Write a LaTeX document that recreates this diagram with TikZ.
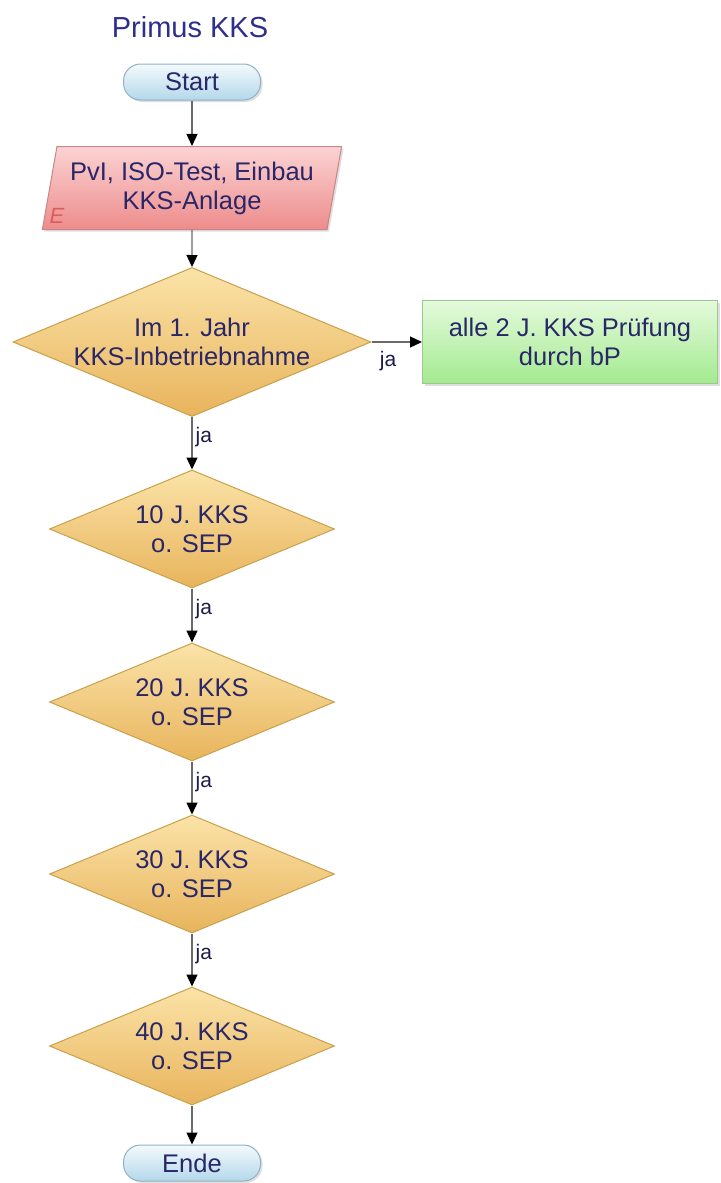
\documentclass[tikz,border=0pt]{standalone}
\usepackage{fontspec}
\setmainfont{Liberation Sans}
\usetikzlibrary{shapes.geometric,arrows.meta,shadows}
\definecolor{txtblau}{HTML}{2A2768}
\definecolor{titelblau}{HTML}{2E2F8C}
\definecolor{linie}{HTML}{6A6A6A}
\definecolor{termoben}{HTML}{F4FAFD}
\definecolor{termunten}{HTML}{B3D8EA}
\definecolor{termrand}{HTML}{8FB2C6}
\definecolor{rosaoben}{HTML}{FBD3D3}
\definecolor{rosaunten}{HTML}{EE8C8C}
\definecolor{rosarand}{HTML}{C98686}
\definecolor{goldoben}{HTML}{FBE3A8}
\definecolor{goldunten}{HTML}{E8B45C}
\definecolor{goldrand}{HTML}{C9A04C}
\definecolor{gruenoben}{HTML}{E4FADC}
\definecolor{gruenunten}{HTML}{A4EA90}
\definecolor{gruenrand}{HTML}{9CC88E}
\definecolor{erot}{HTML}{D95E5E}
\begin{document}
\begin{tikzpicture}[x=1pt,y=-1pt,
 schatten/.style={drop shadow={shadow xshift=2pt,shadow yshift=-2pt,opacity=.25}},
 terminal/.style={draw=termrand,line width=1pt,rounded corners=17pt,minimum width=137,minimum height=36,
   top color=termoben,bottom color=termunten,text=txtblau,font=\fontsize{25.5}{29}\selectfont,schatten},
 eingabe/.style={trapezium,trapezium left angle=76,trapezium right angle=104,trapezium stretches=true,
   minimum width=300,minimum height=83,inner sep=0pt,draw=rosarand,line width=1pt,
   top color=rosaoben,bottom color=rosaunten,text=txtblau,align=center,font=\fontsize{25.5}{29}\selectfont,schatten},
 entscheid/.style={diamond,aspect=2.4,inner sep=0pt,minimum width=285,minimum height=118,draw=goldrand,line width=1pt,
   top color=goldoben,bottom color=goldunten,text=txtblau,align=center,font=\fontsize{25.5}{29}\selectfont},
 prozess/.style={rectangle,minimum width=295,minimum height=83,draw=gruenrand,line width=1pt,
   top color=gruenoben,bottom color=gruenunten,text=txtblau,align=center,font=\fontsize{25.5}{29}\selectfont,schatten},
 pfeil/.style={draw=linie,line width=1.3pt,-{Triangle[length=12pt,width=11pt,color=black]}},
 jalabel/.style={text=txtblau!70!black,font=\fontsize{21}{21}\selectfont,inner sep=3pt}]
\useasboundingbox (0,0) rectangle (720,1183);

\node[text=titelblau,font=\fontsize{29}{29}\selectfont] (titel) at (190,27) {Primus KKS};
\node[terminal] (start) at (192,82) {Start};
\node[eingabe] (anlage) at (192,188) {PvI, ISO-Test, Einbau\\KKS-Anlage};
\node[text=erot,font=\fontsize{22}{22}\selectfont\itshape] (etag) at (57,216) {E};
\node[entscheid,minimum width=358,minimum height=149] (d1) at (192,342) {Im 1. Jahr\\KKS-Inbetriebnahme};
\node[prozess] (pruef) at (570,342) {alle 2 J. KKS Prüfung\\durch bP};
\node[entscheid] (d2) at (192,529) {10 J. KKS\\o. SEP};
\node[entscheid] (d3) at (192,702) {20 J. KKS\\o. SEP};
\node[entscheid] (d4) at (192,874) {30 J. KKS\\o. SEP};
\node[entscheid] (d5) at (192,1046) {40 J. KKS\\o. SEP};
\node[terminal] (ende) at (192,1163) {Ende};

\draw[pfeil] (start) -- (anlage);
\draw[pfeil] (anlage) -- (d1);
\draw[pfeil] (d1.east) -- node[jalabel,pos=.33,below=6pt]{ja} (pruef.west);
\draw[pfeil] (d1) -- node[jalabel,pos=.38,right]{ja} (d2);
\draw[pfeil] (d2) -- node[jalabel,pos=.38,right]{ja} (d3);
\draw[pfeil] (d3) -- node[jalabel,pos=.38,right]{ja} (d4);
\draw[pfeil] (d4) -- node[jalabel,pos=.38,right]{ja} (d5);
\draw[pfeil] (d5) -- (ende);
\end{tikzpicture}
\end{document}
